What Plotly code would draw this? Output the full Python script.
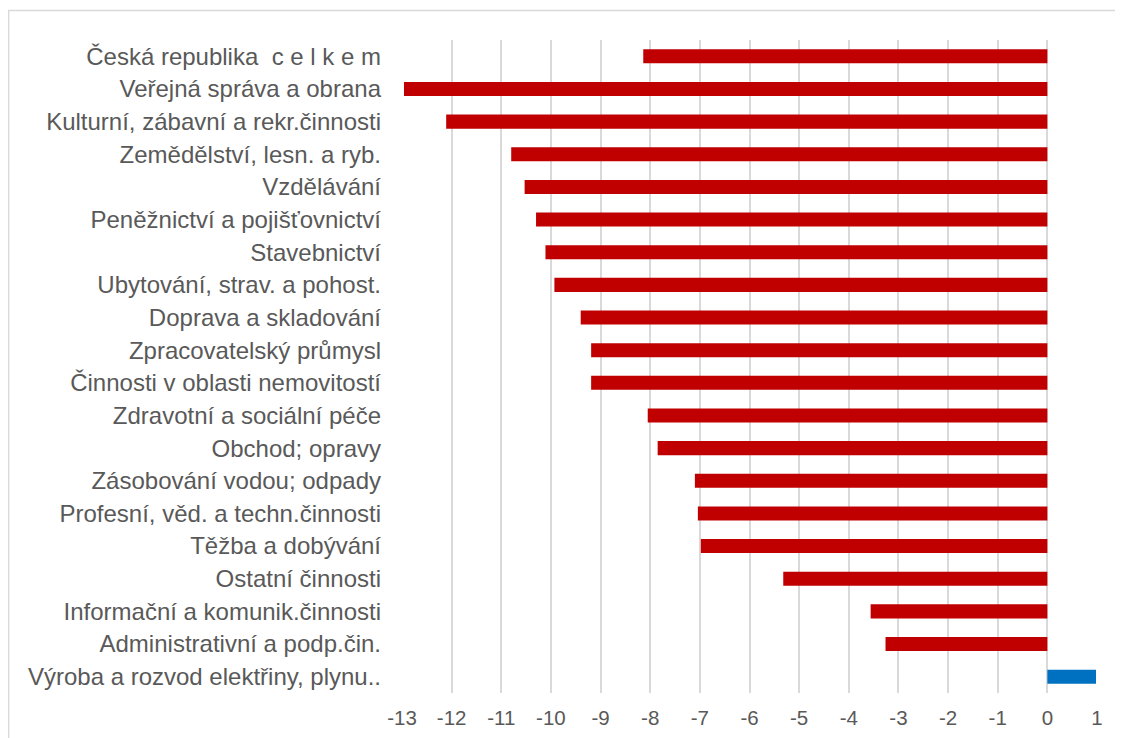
import plotly.graph_objects as go

categories = [
    "Česká republika  c e l k e m",
    "Veřejná správa a obrana",
    "Kulturní, zábavní a rekr.činnosti",
    "Zemědělství, lesn. a ryb.",
    "Vzdělávání",
    "Peněžnictví a pojišťovnictví",
    "Stavebnictví",
    "Ubytování, strav. a pohost.",
    "Doprava a skladování",
    "Zpracovatelský průmysl",
    "Činnosti v oblasti nemovitostí",
    "Zdravotní a sociální péče",
    "Obchod; opravy",
    "Zásobování vodou; odpady",
    "Profesní, věd. a techn.činnosti",
    "Těžba a dobývání",
    "Ostatní činnosti",
    "Informační a komunik.činnosti",
    "Administrativní a podp.čin.",
    "Výroba a rozvod elektřiny, plynu..",
]
values = [-8.14, -12.96, -12.11, -10.80, -10.53, -10.30, -10.11, -9.93, -9.40,
          -9.19, -9.19, -8.05, -7.85, -7.10, -7.04, -6.98, -5.32, -3.56, -3.26, 0.98]
tick_vals = list(range(-13, 2))
tick_text = [str(v) for v in tick_vals]

colors = ["#C00000" if v < 0 else "#0070C0" for v in values]

fig = go.Figure(go.Bar(
    y=categories, x=values, orientation="h",
    marker=dict(color=colors, line=dict(width=0)),
))

fig.update_layout(
    width=1123, height=738,
    margin=dict(l=394, r=34, t=32, b=53),
    plot_bgcolor="white", paper_bgcolor="white",
    bargap=0.57,
    showlegend=False,
    font=dict(family="Liberation Sans, Arial, sans-serif", size=18, color="#595959"),
    shapes=[dict(type="rect", xref="paper", yref="paper",
                 x0=-0.566, x1=1.2, y0=-0.3, y1=1.045,
                 line=dict(color="#d9d9d9", width=1.5), fillcolor="rgba(0,0,0,0)",
                 layer="below")],
)
fig.update_xaxes(
    range=[-13, 1.0], tickvals=tick_vals, ticktext=tick_text, showgrid=True,
    gridcolor="#d9d9d9", gridwidth=1.5, zeroline=True, zerolinecolor="#d9d9d9",
    zerolinewidth=1.5, showline=False, ticks="", ticklabelstandoff=10,
    tickfont=dict(size=20.5, color="#595959"),
)
fig.update_yaxes(
    categoryorder="array", categoryarray=categories, autorange="reversed",
    showgrid=False, zeroline=False, showline=False, ticks="",
    ticklabelstandoff=20, tickfont=dict(size=24, color="#595959"),
)

fig.write_html("out.html")
